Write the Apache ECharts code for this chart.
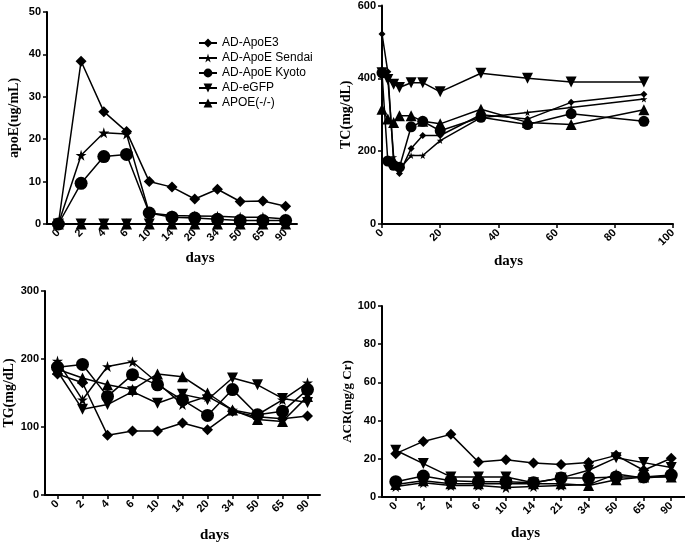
<!DOCTYPE html>
<html>
<head>
<meta charset="utf-8">
<script src="https://cdn.jsdelivr.net/npm/echarts@6/dist/echarts.min.js"></script>
<style>
  html, body { margin: 0; padding: 0; background: #fff; }
  #chart { width: 685px; height: 544px; }
</style>
</head>
<body>
<div id="chart"></div>
<script>
// names of the five groups
const groups = ['AD-ApoE3', 'AD-ApoE Sendai', 'AD-ApoE Kyoto', 'AD-eGFP', 'APOE(-/-)'];

// apoE (ug/mL), top left
const apoeDays = ['0', '2', '4', '6', '10', '14', '20', '34', '50', '65', '90'];
const apoeE3 = [0, 38.4, 26.5, 21.8, 10, 8.7, 5.9, 8.2, 5.3, 5.4, 4.2];
const apoeSendai = [0, 16.2, 21.5, 21.2, 2.6, 2.0, 1.9, 1.8, 1.6, 1.6, 1.2];
const apoeKyoto = [0, 9.6, 15.9, 16.4, 2.6, 1.6, 1.4, 1.1, 0.8, 0.8, 0.8];
const apoeGFP = [0, 0, 0, 0, 0, 0, 0, 0, 0, 0, 0];
const apoeKO = [0, 0, 0, 0, 0, 0, 0, 0, 0, 0, 0];

// TC (mg/dL), top right, numeric day axis
const tcDays = [0, 2, 4, 6, 10, 14, 20, 34, 50, 65, 90];
const tcE3 = [522, 418, 170, 139, 207, 243, 243, 300, 288, 334, 356];
const tcSendai = [410, 400, 184, 150, 188, 188, 229, 292, 306, 320, 343];
const tcKyoto = [415, 173, 161, 156, 267, 282, 256, 293, 273, 303, 282];
const tcGFP = [415, 397, 384, 375, 388, 388, 363, 414, 400, 390, 390];
const tcKO = [315, 288, 279, 297, 297, 282, 275, 315, 279, 273, 314];

// TG (mg/dL), bottom left
const tgDays = ['0', '2', '4', '6', '10', '14', '20', '34', '50', '65', '90'];
const tgE3 = [178, 165, 88, 94, 94, 106, 96, 123, 115, 112, 116];
const tgSendai = [197, 140, 189, 196, 165, 133, 145, 125, 118, 140, 165];
const tgKyoto = [188, 192, 145, 177, 162, 140, 117, 155, 118, 123, 155];
const tgGFP = [182, 126, 133, 152, 135, 148, 140, 172, 162, 142, 136];
const tgKO = [185, 172, 162, 155, 178, 174, 150, 125, 111, 108, 145];

// ACR (mg/g Cr), bottom right
const acrDays = ['0', '2', '4', '6', '10', '14', '21', '34', '50', '65', '90'];
const acrE3 = [22.7, 29.1, 32.8, 18.3, 19.5, 17.8, 17.0, 18.0, 21.8, 14.0, 20.3];
const acrSendai = [5.5, 7.5, 6.0, 6.0, 5.0, 5.5, 6.0, 6.5, 12.0, 10.0, 11.0];
const acrKyoto = [8.0, 11.0, 8.5, 8.0, 8.0, 7.5, 10.0, 10.0, 10.5, 10.5, 11.5];
const acrGFP = [24.5, 17.5, 10.5, 10.5, 10.5, 7.5, 10.0, 14.0, 20.5, 18.0, 15.5];
const acrKO = [6.5, 8.5, 7.0, 7.0, 7.0, 7.0, 7.0, 6.0, 9.0, 10.5, 10.5];

const starPath = 'path://M50,0 L61,36 L98,36 L68,58 L79,94 L50,72 L21,94 L32,58 L2,36 L39,36 Z';
const symbols = ['diamond', starPath, 'circle', 'triangle', 'triangle'];
const rotates = [0, 0, 0, 180, 0];

const sans = 'Liberation Sans, Arial, sans-serif';
const serif = 'Liberation Serif, Times New Roman, serif';

function mkSeries(idx, data, axisIdx, sizes) {
    return {
        name: groups[idx],
        type: 'line',
        xAxisIndex: axisIdx,
        yAxisIndex: axisIdx,
        data: data,
        symbol: symbols[idx],
        symbolRotate: rotates[idx],
        symbolSize: sizes[idx],
        showAllSymbol: true,
        lineStyle: {color: '#000', width: 1.5},
        itemStyle: {color: '#000'},
        z: 3
    };
}

function pairs(days, vals) {
    return days.map((d, i) => [d, vals[i]]);
}

function catX(gi, days, gap, pad) {
    return {
        type: 'category',
        gridIndex: gi,
        data: days,
        boundaryGap: true,
        name: 'days',
        nameLocation: 'middle',
        nameGap: gap,
        nameTextStyle: {fontFamily: serif, fontWeight: 'bold', fontSize: 15, color: '#000', padding: pad},
        axisLine: {lineStyle: {color: '#000', width: 2}},
        axisTick: {show: true, alignWithLabel: true, length: 4, lineStyle: {color: '#000', width: 1.5}},
        axisLabel: {rotate: 45, interval: 0, margin: 7, fontFamily: sans, fontWeight: 'bold', fontSize: 11, color: '#000'},
        splitLine: {show: false}
    };
}

function valY(gi, name, max, interval, gap, size) {
    return {
        type: 'value',
        gridIndex: gi,
        min: 0,
        max: max,
        interval: interval,
        name: name,
        nameLocation: 'middle',
        nameGap: gap,
        nameTextStyle: {fontFamily: serif, fontWeight: 'bold', fontSize: size, color: '#000'},
        axisLine: {show: true, lineStyle: {color: '#000', width: 2}},
        axisTick: {show: true, length: 4, lineStyle: {color: '#000', width: 1.5}},
        axisLabel: {margin: 6, fontFamily: sans, fontWeight: 'bold', fontSize: 11, color: '#000'},
        splitLine: {show: false}
    };
}

const big = [11, 11, 13, 11, 11];
const tcSizes = [7, 7, 11, 11, 11];

const series = [
    mkSeries(0, apoeE3, 0, big),
    mkSeries(1, apoeSendai, 0, big),
    mkSeries(2, apoeKyoto, 0, big),
    mkSeries(3, apoeGFP, 0, big),
    mkSeries(4, apoeKO, 0, big),
    mkSeries(0, pairs(tcDays, tcE3), 1, tcSizes),
    mkSeries(1, pairs(tcDays, tcSendai), 1, tcSizes),
    mkSeries(2, pairs(tcDays, tcKyoto), 1, tcSizes),
    mkSeries(3, pairs(tcDays, tcGFP), 1, tcSizes),
    mkSeries(4, pairs(tcDays, tcKO), 1, tcSizes),
    mkSeries(0, tgE3, 2, big),
    mkSeries(1, tgSendai, 2, big),
    mkSeries(2, tgKyoto, 2, big),
    mkSeries(3, tgGFP, 2, big),
    mkSeries(4, tgKO, 2, big),
    mkSeries(0, acrE3, 3, big),
    mkSeries(1, acrSendai, 3, big),
    mkSeries(2, acrKyoto, 3, big),
    mkSeries(3, acrGFP, 3, big),
    mkSeries(4, acrKO, 3, big)
];

const option = {
    animation: false,
    backgroundColor: '#fff',
    legend: {
        data: groups,
        orient: 'vertical',
        left: 193,
        top: 32,
        itemWidth: 18,
        itemHeight: 11,
        itemGap: 3,
        textStyle: {fontFamily: sans, fontSize: 12, color: '#000'}
    },
    grid: [
        {left: 47, top: 12, width: 250, height: 212},
        {left: 382, top: 4, width: 291, height: 220},
        {left: 45, top: 291, width: 275, height: 205},
        {left: 382, top: 306, width: 303, height: 191}
    ],
    xAxis: [
        catX(0, apoeDays, 27, [0, 0, 0, 56]),
        {
            type: 'value',
            gridIndex: 1,
            min: 0,
            max: 100,
            interval: 20,
            name: 'days',
            nameLocation: 'middle',
            nameGap: 30,
            nameTextStyle: {fontFamily: serif, fontWeight: 'bold', fontSize: 15, color: '#000', padding: [0, 38, 0, 0]},
            axisLine: {lineStyle: {color: '#000', width: 2}},
            axisTick: {show: true, length: 4, lineStyle: {color: '#000', width: 1.5}},
            axisLabel: {rotate: 45, margin: 7, fontFamily: sans, fontWeight: 'bold', fontSize: 11, color: '#000'},
            splitLine: {show: false}
        },
        catX(2, tgDays, 33, [0, 0, 0, 64]),
        catX(3, acrDays, 29, [0, 16, 0, 0])
    ],
    yAxis: [
        valY(0, 'apoE(ug/mL)', 50, 10, 26, 14),
        valY(1, 'TC(mg/dL)', 600, 200, 27, 14),
        valY(2, 'TG(mg/dL)', 300, 100, 28, 14),
        valY(3, 'ACR(mg/g Cr)', 100, 20, 18, 13)
    ],
    series: series
};

const chart = echarts.init(document.getElementById('chart'));
chart.setOption(option);
</script>
</body>
</html>
